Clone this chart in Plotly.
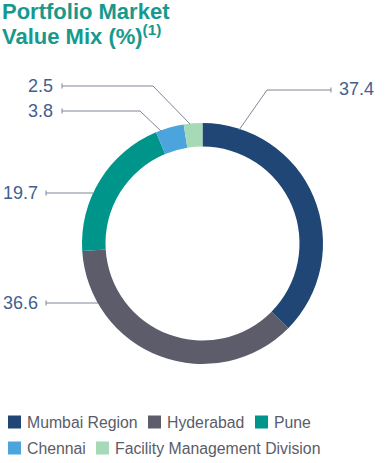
import plotly.graph_objects as go

categories = ["Mumbai Region", "Hyderabad", "Pune", "Chennai", "Facility Management Division"]
values = [37.4, 36.6, 19.7, 3.8, 2.5]
colors = ["#1f4674", "#5c5c6b", "#00958a", "#4ba4db", "#a6d9b5"]
title_lines = ["Portfolio Market", "Value Mix (%)<sup>(1)</sup>"]

W, H = 387, 463

def px(x):
    return x / W

def py(y):
    return 1 - y / H

cx, cy, R = 202.5, 243.5, 120.5

fig = go.Figure()
fig.add_trace(go.Pie(
    labels=categories, values=values, sort=False, direction="clockwise", rotation=0,
    hole=0.805, marker=dict(colors=colors, line=dict(width=0)),
    textinfo="none", hoverinfo="label+value", showlegend=False,
    domain=dict(x=[px(cx - R), px(cx + R)], y=[py(cy + R), py(cy - R)]),
))

label_layout = {
    0: dict(path=[(239, 130), (267, 90), (331, 90)], text=(337, 89), anchor="left"),
    4: dict(path=[(190, 124), (153, 86), (62, 86)], text=(55, 86), anchor="right"),
    3: dict(path=[(161, 131), (140, 111), (62, 111)], text=(55, 111), anchor="right"),
    2: dict(path=[(93, 193), (46, 193)], text=(40, 193), anchor="right"),
    1: dict(path=[(98, 303), (46, 303)], text=(40, 303), anchor="right"),
}

line_col = "#7d8597"
shapes = []
annotations = []
for idx, lay in label_layout.items():
    pts = lay["path"]
    d = "M " + " L ".join(f"{px(x)},{py(y)}" for x, y in pts)
    shapes.append(dict(type="path", path=d, xref="paper", yref="paper",
                       line=dict(color=line_col, width=1)))
    ex, ey = pts[-1]
    shapes.append(dict(type="line", xref="paper", yref="paper",
                       x0=px(ex), x1=px(ex), y0=py(ey - 2.5), y1=py(ey + 2.5),
                       line=dict(color=line_col, width=1)))
    tx, ty = lay["text"]
    annotations.append(dict(text=f"{values[idx]:.1f}", x=px(tx), y=py(ty), xref="paper", yref="paper",
                            xanchor=lay["anchor"], yanchor="middle", showarrow=False,
                            font=dict(size=18, color="#41608f", family="Liberation Sans, Arial")))

# Title (two lines)
for i, (line, ymid) in enumerate(zip(title_lines, [11, 35])):
    annotations.append(dict(
        text=line, x=px(0), y=py(ymid), xref="paper", yref="paper", xanchor="left", yanchor="middle",
        align="left", showarrow=False,
        font=dict(size=22, color="#17998d", family="Liberation Sans, Arial", weight=700),
    ))

# Legend (custom)
legend_pos = [(8, 422), (148, 422), (255, 422), (8, 448), (96, 448)]
sq = 13
for i, (lx, ly) in enumerate(legend_pos):
    shapes.append(dict(type="rect", xref="paper", yref="paper",
                       x0=px(lx), x1=px(lx + sq), y0=py(ly + sq / 2), y1=py(ly - sq / 2),
                       fillcolor=colors[i], line=dict(width=0)))
    annotations.append(dict(text=categories[i], x=px(lx + sq + 4), y=py(ly), xref="paper", yref="paper",
                            xanchor="left", yanchor="middle", showarrow=False,
                            font=dict(size=15.8, color="#5a5c69", family="Liberation Sans, Arial")))

fig.update_layout(
    width=W, height=H, margin=dict(l=0, r=0, t=0, b=0),
    paper_bgcolor="white", plot_bgcolor="white",
    shapes=shapes, annotations=annotations,
)

fig.write_html("out.html", config={"displayModeBar": False},
               post_script="document.body.style.margin='0';document.body.style.overflow='hidden';")
